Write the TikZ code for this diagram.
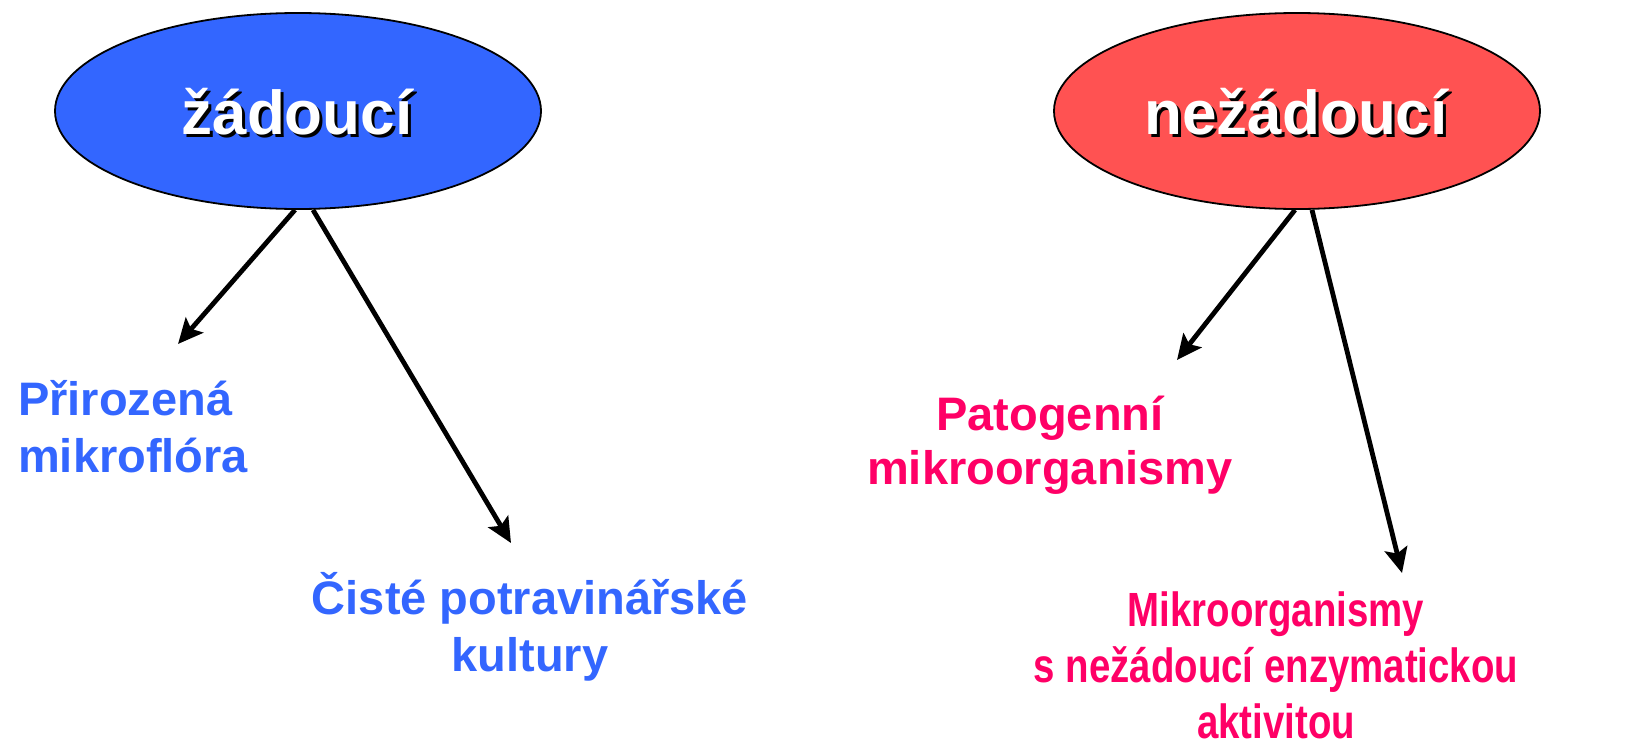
\documentclass[tikz,border=0pt]{standalone}
\usepackage{fontspec}
\setmainfont{Liberation Sans}
\newfontfamily\narrowsans[FakeStretch=0.8]{Liberation Sans}
\usetikzlibrary{shapes.geometric,arrows.meta}
\definecolor{goodblue}{RGB}{51,102,255}
\definecolor{badred}{RGB}{255,82,82}
\definecolor{badpink}{RGB}{255,0,102}
% white title with a dark drop shadow
\newcommand\shadowed[1]{\rlap{\hspace{3pt}\raisebox{-3pt}{\textcolor{black}{#1}}}#1}
\begin{document}
\begin{tikzpicture}[x=1pt,y=-1pt,
  group/.style={ellipse, draw=black, line width=1.8pt, minimum width=486pt,
                minimum height=196pt, inner sep=0pt},
  title/.style={text=white, font=\fontsize{62}{62}\selectfont\bfseries,
                inner sep=0pt, anchor=base},
  label/.style={font=\fontsize{47}{57}\selectfont\bfseries, inner sep=0pt, anchor=base},
  link/.style={line width=4.8pt, -{Stealth[length=25pt,width=23pt,inset=5pt]}}
]
\useasboundingbox (0,0) rectangle (1647,745);

% the two groups
\node[group, fill=goodblue] (good) at (298,111) {};
\node[group, fill=badred] (bad) at (1297,111) {};
\node[title] (goodT) at (297,134) {\shadowed{žádoucí}};
\node[title] (badT) at (1296,134) {\shadowed{nežádoucí}};

% members of each group (positioned by the baseline of their last line)
\node[label, anchor=base west, align=left, text=goodblue] (natural) at (18,472)
  {Přirozená\\mikroflóra};
\node[label, align=center, text=goodblue] (cultures) at (530,671)
  {Čisté potravinářské\\kultury};
\node[label, align=center, text=badpink, font=\fontsize{47}{54}\selectfont\bfseries]
  (pathogens) at (1050,484) {Patogenní\\mikroorganismy};
\node[label, align=center, text=badpink,
      font=\fontsize{48}{56}\selectfont\narrowsans\bfseries]
  (enzymes) at (1276,738) {Mikroorganismy\\s nežádoucí enzymatickou\\aktivitou};

% arrow ends
\coordinate (naturalTip) at (178,344);
\coordinate (culturesTip) at (511,543);
\coordinate (pathogensTip) at (1177,360);
\coordinate (enzymesTip) at (1402,573);

\draw[link] ([xshift=-3pt]good.south) -- (naturalTip);
\draw[link] ([xshift=15pt]good.south) -- (culturesTip);
\draw[link] ([xshift=-2pt]bad.south) -- (pathogensTip);
\draw[link] ([xshift=15pt]bad.south) -- (enzymesTip);
\end{tikzpicture}
\end{document}
